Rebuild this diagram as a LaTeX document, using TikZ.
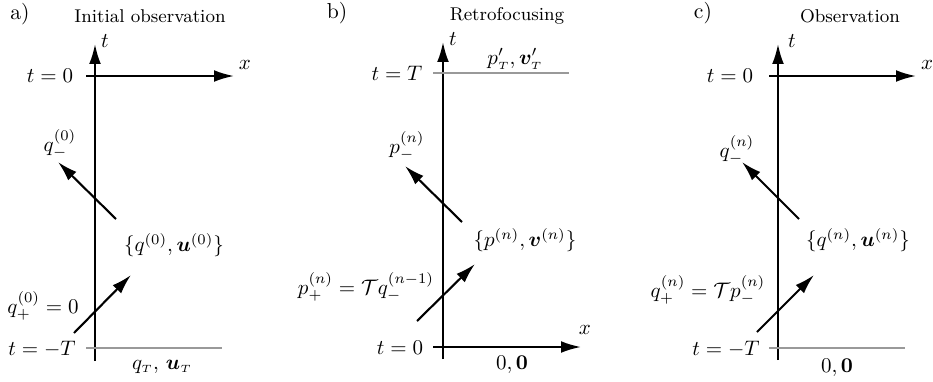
\documentclass[tikz,border=0pt]{standalone}
\usepackage{amsmath,amssymb,bm}
\usetikzlibrary{arrows.meta}
\begin{document}
\begin{tikzpicture}[x=0.476pt,y=-0.476pt,
  axis/.style={line width=1pt,-{Latex[length=9.5pt,width=5.6pt]}},
  greyline/.style={line width=0.8pt,gray!80},
  wave/.style={line width=1pt,-{Latex[length=9.5pt,width=5.6pt]}},
  lbl/.style={inner sep=1pt,font=\fontsize{10.3}{12}\selectfont},
  title/.style={inner sep=1pt,font=\fontsize{8.8}{10}\selectfont}]
\useasboundingbox (0,0) rectangle (933,381);
% ---------- panel a ----------
\node[lbl] (pa) at (20,14) {a)};
\node[title] (ta) at (150,16) {Initial observation};
\coordinate (aTb) at (95,361); \coordinate (aTt) at (95,44);
\draw[axis] (aTb) -- (aTt);
\node[lbl] (at) at (105,41) {$t$};
\coordinate (aXl) at (86,76); \coordinate (aXr) at (234,76);
\draw[axis] (aXl) -- (aXr);
\node[lbl] (ax) at (245,65) {$x$};
\node[lbl] (at0) at (50,76) {$t=0$};
\coordinate (aGl) at (86,348); \coordinate (aGr) at (222,348);
\draw[greyline] (aGl) -- (aGr);
\node[lbl] (atT) at (42,349) {$t=-T$};
\node[lbl] (aqT) at (162,367) {$q_{\scriptscriptstyle T},\,\bm{u}_{\scriptscriptstyle T}$};
\coordinate (am1) at (116,219); \coordinate (am2) at (58,162);
\draw[wave] (am1) -- (am2);
\node[lbl] (aqm) at (60,144) {$q_-^{(0)}$};
\coordinate (ap1) at (74,333); \coordinate (ap2) at (131,275);
\draw[wave] (ap1) -- (ap2);
\node[lbl] (aqp) at (43,306) {$q_+^{(0)}=0$};
\node[lbl] (aset) at (174,245) {$\{q^{(0)},\bm{u}^{(0)}\}$};
% ---------- panel b ----------
\node[lbl] (pb) at (337,13) {b)};
\node[title] (tb) at (507,16) {Retrofocusing};
\coordinate (bTb) at (443,359); \coordinate (bTt) at (443,42);
\draw[axis] (bTb) -- (bTt);
\node[lbl] (bt) at (453,39) {$t$};
\coordinate (bGl) at (433,73); \coordinate (bGr) at (569,73);
\draw[greyline] (bGl) -- (bGr);
\node[lbl] (btT) at (397,73) {$t=T$};
\node[lbl] (bpT) at (515,59) {$p'_{\scriptscriptstyle T},\bm{v}'_{\scriptscriptstyle T}$};
\coordinate (bXl) at (433,347); \coordinate (bXr) at (581,347);
\draw[axis] (bXl) -- (bXr);
\node[lbl] (bx) at (585,330) {$x$};
\node[lbl] (bt0) at (400,348) {$t=0$};
\node[lbl] (b00) at (512,365) {$0,\mathbf{0}$};
\coordinate (bm1) at (462,222); \coordinate (bm2) at (405,166);
\draw[wave] (bm1) -- (bm2);
\node[lbl] (bpm) at (407,146) {$p_-^{(n)}$};
\coordinate (bp1) at (417,321); \coordinate (bp2) at (475,264);
\draw[wave] (bp1) -- (bp2);
\node[lbl] (bpp) at (366,287) {$p_+^{(n)}=\mathcal{T}q_-^{(n-1)}$};
\node[lbl] (bset) at (525,240) {$\{p^{(n)},\bm{v}^{(n)}\}$};
% ---------- panel c ----------
\node[lbl] (pc) at (703,13) {c)};
\node[title] (tc) at (850,16) {Observation};
\coordinate (cTb) at (778,360); \coordinate (cTt) at (778,44);
\draw[axis] (cTb) -- (cTt);
\node[lbl] (ct) at (792,41) {$t$};
\coordinate (cXl) at (769,76); \coordinate (cXr) at (916,76);
\draw[axis] (cXl) -- (cXr);
\node[lbl] (cx) at (927,65) {$x$};
\node[lbl] (ct0) at (730,76) {$t=0$};
\coordinate (cGl) at (769,348); \coordinate (cGr) at (905,348);
\draw[greyline] (cGl) -- (cGr);
\node[lbl] (ctT) at (726,349) {$t=-T$};
\node[lbl] (c00) at (837,368) {$0,\mathbf{0}$};
\coordinate (cm1) at (799,219); \coordinate (cm2) at (742,162);
\draw[wave] (cm1) -- (cm2);
\node[lbl] (cqm) at (737,150) {$q_-^{(n)}$};
\coordinate (cp1) at (757,332); \coordinate (cp2) at (814,275);
\draw[wave] (cp1) -- (cp2);
\node[lbl] (cqp) at (708,290) {$q_+^{(n)}=\mathcal{T}p_-^{(n)}$};
\node[lbl] (cset) at (858,240) {$\{q^{(n)},\bm{u}^{(n)}\}$};
\end{tikzpicture}
\end{document}
